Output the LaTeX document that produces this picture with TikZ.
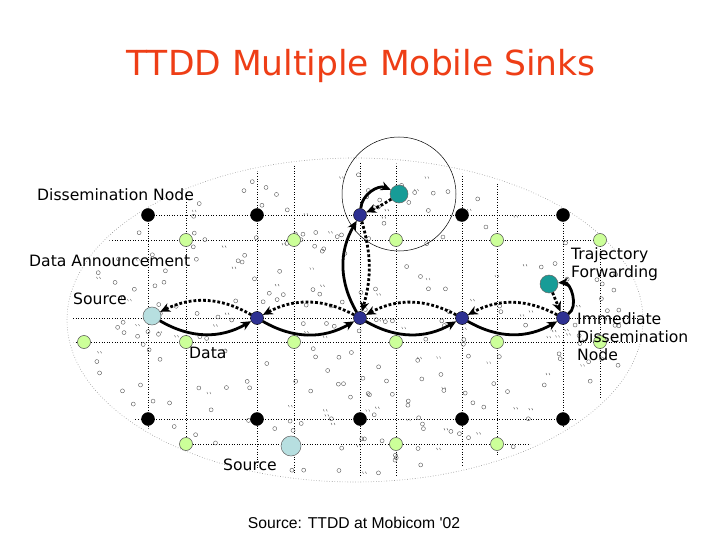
\documentclass[tikz,border=0pt]{standalone}
\usepackage{fontspec}
\setmainfont{DejaVu Sans}
\newfontfamily\arialfont{Liberation Sans}
\usetikzlibrary{arrows.meta}
\definecolor{ttddred}{HTML}{EE3E16}
\definecolor{agentblue}{HTML}{2E3192}
\definecolor{gridgreen}{HTML}{CCFF99}
\definecolor{srcblue}{HTML}{B7DFE0}
\definecolor{sinkteal}{HTML}{179C97}
\definecolor{sensorgray}{HTML}{555555}

\begin{document}
\begin{tikzpicture}[x=1pt,y=-1pt,
  dissem/.style={circle,fill=black,draw=black,inner sep=0pt,minimum size=13pt},
  agent/.style={circle,fill=agentblue,draw=black,line width=0.4pt,inner sep=0pt,minimum size=13pt},
  gridpt/.style={circle,fill=gridgreen,draw=black!70,line width=0.5pt,inner sep=0pt,minimum size=13pt},
  srcnode/.style={circle,fill=srcblue,draw=black!60,line width=0.5pt,inner sep=0pt,minimum size=18pt},
  sinknode/.style={circle,fill=sinkteal,draw=black!60,line width=0.5pt,inner sep=0pt,minimum size=18pt},
  gridline/.style={black,line width=0.6pt,dotted},
  sensor/.style={sensorgray,line width=0.4pt},
  datafl/.style={line width=2.8pt,-{Stealth[length=10pt,width=9pt]}},
  queryfl/.style={line width=2.8pt,dash pattern=on 2.8pt off 2pt,-{Stealth[length=10pt,width=9pt]}},
  lbl/.style={font=\fontsize{15.6}{18}\selectfont,anchor=west,inner sep=0pt}]
  \useasboundingbox (0,0) rectangle (720,540);
  % title
  \node[ttddred,font=\fontsize{34.5}{38}\selectfont] (title) at (361,66) {TTDD Multiple Mobile Sinks};
  % sensor field
  \draw[black!45,line width=0.6pt,dotted] (355,320) ellipse [x radius=288pt, y radius=162pt];
  \begin{scope}
    \clip (355,320) ellipse [x radius=284pt, y radius=158pt];
    \foreach \gx in {148,186,257,294,360,396,462,497,563,600}
      \draw[gridline] (\gx,150) -- (\gx,490);
    \foreach \gy in {215,240,318,342,419,444}
      \draw[gridline] (60,\gy) -- (650,\gy);
  \end{scope}
  \pgfmathsetseed{11}
  \foreach \k in {1,...,210}{
    \pgfmathsetmacro\sr{sqrt(rnd)*0.96}
    \pgfmathsetmacro\sa{360*rnd}
    \draw[sensor] ({355+288*\sr*cos(\sa)},{320+162*\sr*sin(\sa)}) circle (2pt);
  }
  \foreach \k in {1,...,70}{
    \pgfmathsetmacro\sr{sqrt(rnd)*0.95}
    \pgfmathsetmacro\sa{360*rnd}
    \draw[sensor] ({355+288*\sr*cos(\sa)},{320+162*\sr*sin(\sa)}) ++(-2,-1) -- ++(1,2) ++(2,-2) -- ++(1,2);
  }
  % range of the first sink
  \draw[black,line width=0.5pt] (399,194) circle (57pt);
  % dissemination nodes
  \node[dissem] (dn1) at (148,215) {};
  \node[dissem] (dn2) at (257,215) {};
  \node[dissem] (dn3) at (462,215) {};
  \node[dissem] (dn4) at (563,215) {};
  \node[dissem] (dn5) at (148,419) {};
  \node[dissem] (dn6) at (257,419) {};
  \node[dissem] (dn7) at (360,419) {};
  \node[dissem] (dn8) at (462,419) {};
  \node[dissem] (dn9) at (563,419) {};
  % grid points
  \node[gridpt] (gp1) at (186,240) {};
  \node[gridpt] (gp2) at (294,240) {};
  \node[gridpt] (gp3) at (396,240) {};
  \node[gridpt] (gp4) at (497,240) {};
  \node[gridpt] (gp5) at (600,240) {};
  \node[gridpt] (gp6) at (84,342) {};
  \node[gridpt] (gp7) at (186,342) {};
  \node[gridpt] (gp8) at (294,342) {};
  \node[gridpt] (gp9) at (396,342) {};
  \node[gridpt] (gp10) at (497,342) {};
  \node[gridpt] (gp11) at (600,342) {};
  \node[gridpt] (gp12) at (186,444) {};
  \node[gridpt] (gp13) at (396,444) {};
  \node[gridpt] (gp14) at (497,444) {};
  % nodes on the forwarding path
  \node[agent] (agtop) at (360,215) {};
  \node[agent] (ag1) at (257,318) {};
  \node[agent] (ag2) at (360,318) {};
  \node[agent] (ag3) at (462,318) {};
  \node[agent] (ag4) at (563,318) {};
  % sources and sinks
  \node[srcnode] (src1) at (152,316) {};
  \node[srcnode,minimum size=20pt] (src2) at (291,446) {};
  \node[sinknode] (sink1) at (399,194) {};
  \node[sinknode] (sink2) at (549,284) {};
  % data
  \draw[datafl] (src1) to[bend right=30] (ag1);
  \draw[datafl] (ag1) to[bend right=30] (ag2);
  \draw[datafl] (ag2) to[bend right=30] (ag3);
  \draw[datafl] (ag3) to[bend right=30] (ag4);
  \draw[datafl] (ag2) to[bend left=30] (agtop);
  \draw[datafl] (agtop) to[bend left=55] (sink1);
  \draw[datafl] (ag4) to[bend right=75] (sink2);
  % queries
  \draw[queryfl] (ag1) to[bend right=28] (src1);
  \draw[queryfl] (ag2) to[bend right=28] (ag1);
  \draw[queryfl] (ag3) to[bend right=28] (ag2);
  \draw[queryfl] (ag4) to[bend right=28] (ag3);
  \draw[queryfl] (agtop) to[bend left=16] (ag2);
  \draw[queryfl] (sink1) to[bend left=5] (agtop);
  \draw[queryfl] (sink2) -- (ag4);
  % labels
  \node[lbl] (lbDissem) at (37,195) {Dissemination Node};
  \node[lbl] (lbAnnounce) at (29,261) {Data Announcement};
  \node[lbl] (lbSource1) at (73,299) {Source};
  \node[lbl] (lbData) at (189,353) {Data};
  \node[lbl] (lbSource2) at (223,465) {Source};
  \node[lbl,align=left] (lbTraj) at (571,264) {Trajectory\\Forwarding};
  \node[lbl,align=left] (lbImm) at (577,337) {Immediate\\Dissemination\\Node};
  \node[font=\arialfont\fontsize{15.7}{18}\selectfont,inner sep=0pt] (credit) at (354,523) {Source: TTDD at Mobicom '02};
\end{tikzpicture}
\end{document}
